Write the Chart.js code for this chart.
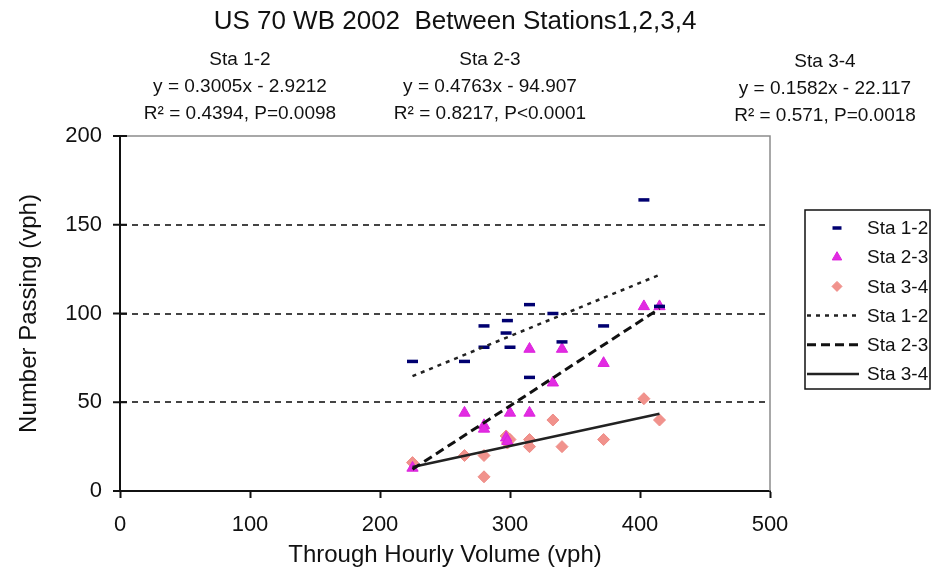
<!DOCTYPE html>
<html>
<head>
<meta charset="utf-8">
<title>US 70 WB 2002</title>
<script src="https://cdn.jsdelivr.net/npm/chart.js@4.4.0/dist/chart.umd.min.js"></script>
<style>
  html, body { margin: 0; padding: 0; background: #fff; }
  #wrap { width: 932px; height: 582px; }
</style>
</head>
<body>
<div id="wrap"><canvas id="passingChart" width="932" height="582"></canvas></div>
<script>
// through hourly volume (vph), shared by the three station pairs
const throughVolume = [225, 265, 280, 280, 297, 298, 300, 315, 315, 333, 340, 372, 403, 415];
const passing12 = [73, 73, 81, 93, 89, 96, 81, 105, 64, 100, 84, 93, 164, 104];
const passing23 = [13, 44, 37, 35, 30, 28, 44, 80, 44, 61, 80, 72, 104, 104];
const passing34 = [16, 20, 20, 8, 31, 27, 29, 29, 25, 40, 25, 29, 52, 40];

const pairNames = ['Sta 1-2', 'Sta 2-3', 'Sta 3-4'];
const slopes = [0.3005, 0.4763, 0.1582];
const intercepts = [-2.9212, -94.907, -22.117];
const rSquared = ['0.4394', '0.8217', '0.571'];
const pValues = ['P=0.0098', 'P<0.0001', 'P=0.0018'];
const trendRange = [225, 415];

const xTicks = [0, 100, 200, 300, 400, 500];
const yTicks = [0, 50, 100, 150, 200];

const FONT = "'Liberation Sans', Arial, sans-serif";

const toPoints = ys => throughVolume.map((x, i) => ({ x, y: ys[i] }));
const trendPoints = i => trendRange.map(x => ({ x, y: slopes[i] * x + intercepts[i] }));

function drawMarker(ctx, ds, x, y) {
    ctx.fillStyle = ds.backgroundColor;
    ctx.strokeStyle = ds.borderColor;
    ctx.lineWidth = ds.pointBorderWidth;
    Chart.helpers.drawPoint(ctx, {
        pointStyle: ds.pointStyle,
        radius: ds.pointRadius,
        borderWidth: ds.pointBorderWidth,
        rotation: 0
    }, x, y);
}

// title, regression captions, plot frame and legend
const decorations = {
    id: 'decorations',
    afterDraw(chart) {
        const ctx = chart.ctx;
        const area = chart.chartArea;
        ctx.save();

        // plot frame top/right
        ctx.strokeStyle = '#8c8c8c';
        ctx.lineWidth = 1.5;
        ctx.beginPath();
        ctx.moveTo(area.left, area.top);
        ctx.lineTo(area.right, area.top);
        ctx.lineTo(area.right, area.bottom);
        ctx.stroke();

        // y tick marks crossing the axis
        const ys = chart.scales.y;
        ctx.strokeStyle = '#111';
        ctx.lineWidth = 2;
        yTicks.forEach(v => {
            const py = ys.getPixelForValue(v);
            ctx.beginPath();
            ctx.moveTo(area.left - 7, py);
            ctx.lineTo(area.left + 7, py);
            ctx.stroke();
        });

        ctx.fillStyle = '#111';
        ctx.textAlign = 'center';
        ctx.textBaseline = 'middle';
        ctx.font = `26px ${FONT}`;
        ctx.fillText('US 70 WB 2002  Between Stations1,2,3,4', 455, 22);

        const centers = [240, 490, 825];
        const tops = [60, 60, 62];
        ctx.font = `19px ${FONT}`;
        pairNames.forEach((name, i) => {
            const cx = centers[i];
            const ty = tops[i];
            const sign = intercepts[i] < 0 ? '- ' : '+ ';
            ctx.fillText(name, cx, ty);
            ctx.fillText(`y = ${slopes[i]}x ${sign}${Math.abs(intercepts[i])}`, cx, ty + 27);
            ctx.fillText(`R\u00B2 = ${rSquared[i]}, ${pValues[i]}`, cx, ty + 54);
        });

        // legend box
        const lx = 805, ly = 210, lw = 125, lh = 179;
        ctx.strokeStyle = '#111';
        ctx.lineWidth = 1.5;
        ctx.strokeRect(lx, ly, lw, lh);
        ctx.textAlign = 'left';
        ctx.font = `19px ${FONT}`;
        chart.data.datasets.forEach((ds, i) => {
            const rowY = ly + 18 + i * 29.2;
            if (ds.type === 'line') {
                ctx.strokeStyle = ds.borderColor;
                ctx.lineWidth = ds.borderWidth;
                ctx.setLineDash(ds.borderDash || []);
                ctx.beginPath();
                ctx.moveTo(lx + 2, rowY);
                ctx.lineTo(lx + 54, rowY);
                ctx.stroke();
                ctx.setLineDash([]);
            } else {
                drawMarker(ctx, Object.assign({}, ds, { pointRadius: ds.pointRadius - 1 }), lx + 32, rowY);
            }
            ctx.fillStyle = '#111';
            ctx.fillText(ds.label, lx + 62, rowY + 1);
        });

        ctx.restore();
    }
};

new Chart(document.getElementById('passingChart'), {
    type: 'scatter',
    data: {
        datasets: [
            {
                label: 'Sta 1-2', data: toPoints(passing12), order: 2,
                pointStyle: 'line', pointRadius: 5.5, pointBorderWidth: 3.5,
                borderColor: '#000070', backgroundColor: '#000070'
            },
            {
                label: 'Sta 2-3', data: toPoints(passing23), order: 2,
                pointStyle: 'triangle', pointRadius: 6.5, pointBorderWidth: 1,
                borderColor: '#dc22dc', backgroundColor: '#e22be2'
            },
            {
                label: 'Sta 3-4', data: toPoints(passing34), order: 2,
                pointStyle: 'rectRot', pointRadius: 6, pointBorderWidth: 1,
                borderColor: '#ee8c87', backgroundColor: '#f1928c'
            },
            {
                type: 'line', label: 'Sta 1-2', data: trendPoints(0), order: 1,
                borderColor: '#222', borderWidth: 2.5, borderDash: [4, 5],
                pointRadius: 0, fill: false
            },
            {
                type: 'line', label: 'Sta 2-3', data: trendPoints(1), order: 1,
                borderColor: '#111', borderWidth: 3, borderDash: [9, 5],
                pointRadius: 0, fill: false
            },
            {
                type: 'line', label: 'Sta 3-4', data: trendPoints(2), order: 1,
                borderColor: '#222', borderWidth: 2.5,
                pointRadius: 0, fill: false
            }
        ]
    },
    options: {
        responsive: false,
        animation: false,
        layout: { padding: { top: 136, right: 162, left: 0, bottom: 0 } },
        plugins: {
            legend: { display: false },
            tooltip: { enabled: false }
        },
        scales: {
            x: {
                type: 'linear', min: 0, max: 500,
                afterFit: s => { s.height = 91; },
                afterBuildTicks: s => { s.ticks = xTicks.map(v => ({ value: v })); },
                grid: { color: 'rgba(0,0,0,0)', tickColor: '#111', tickLength: 7, tickWidth: 2 },
                border: { color: '#111', width: 2 },
                ticks: { color: '#111', padding: 14, font: { family: FONT, size: 22 } },
                title: {
                    display: true, text: 'Through Hourly Volume (vph)', color: '#111',
                    font: { family: FONT, size: 24 }, padding: { top: 0, bottom: 12 }
                }
            },
            y: {
                type: 'linear', min: 0, max: 200,
                afterFit: s => { s.width = 120; },
                afterBuildTicks: s => { s.ticks = yTicks.map(v => ({ value: v })); },
                grid: {
                    color: c => (c.tick && (c.tick.value === 0 || c.tick.value === 200)) ? 'rgba(0,0,0,0)' : '#444',
                    lineWidth: 2,
                    drawTicks: false
                },
                border: { color: '#111', width: 2, dash: [6, 5] },
                ticks: { color: '#111', padding: 18, font: { family: FONT, size: 22 } },
                title: {
                    display: true, text: 'Number Passing (vph)', color: '#111',
                    font: { family: FONT, size: 24 }, padding: { top: 15, bottom: 0 }
                }
            }
        }
    },
    plugins: [decorations]
});
</script>
</body>
</html>
